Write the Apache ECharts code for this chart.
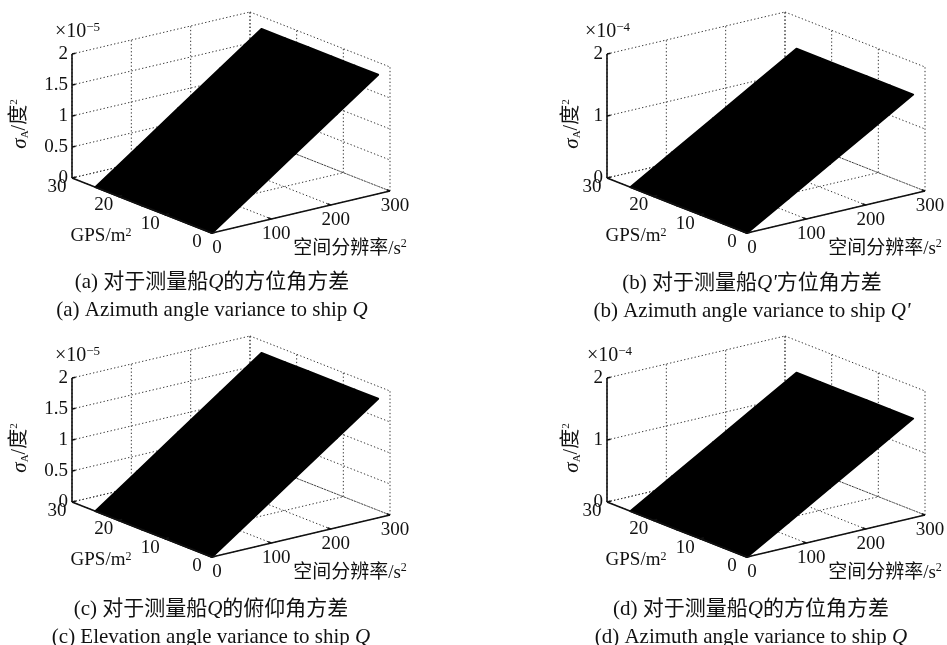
<!DOCTYPE html>
<html>
<head>
<meta charset="utf-8">
<script src="https://cdn.jsdelivr.net/npm/echarts@6/dist/echarts.min.js"></script>
<style>
html, body { margin: 0; padding: 0; background: #fff; }
#chart { width: 947px; height: 645px; }
</style>
</head>
<body>
<div id="chart"></div>
<script>
// axis ticks, shared by the four panels
const gpsTicks = [0, 10, 20, 30]          // GPS/m²
const resTicks = [0, 100, 200, 300]       // 空间分辨率/s²
const zTicks5 = [0, 0.5, 1, 1.5, 2]       // ×10^-5
const zTicks4 = [0, 1, 2]                 // ×10^-4

// where the surfaces were sampled
const gpsGrid = [0, 5, 10, 15, 20, 25]
const resGrid = [0, 70, 140, 210, 280]

// σ of each plane, one value per resGrid column (flat along GPS)
const sigmaA_Q = [0, 0.48, 0.96, 1.44, 1.92]    // ×10^-5
const sigmaA_Qp = [0, 0.40, 0.80, 1.20, 1.60]   // ×10^-4
const sigmaE_Q = [0, 0.48, 0.96, 1.44, 1.92]    // ×10^-5
const sigmaA_Q2 = [0, 0.40, 0.80, 1.20, 1.60]   // ×10^-4

const captionsZh = ['(a) 对于测量船Q的方位角方差', "(b) 对于测量船Q'方位角方差", '(c) 对于测量船Q的俯仰角方差', '(d) 对于测量船Q的方位角方差']
const captionsEn = ['(a) Azimuth angle variance to ship Q', "(b) Azimuth angle variance to ship Q'", '(c) Elevation angle variance to ship Q', '(d) Azimuth angle variance to ship Q']

// fake 3D view: screen extent (px) of each full axis
const VIEW = { gx: -140, gy: 55, sx: 178, sy: 42, zh: 124 }
const gpsMax = gpsTicks[gpsTicks.length - 1]
const resMax = resTicks[resTicks.length - 1]

const panels = [
  { left: 72, top: 12, z: zTicks5, exp: '−5', sigma: sigmaA_Q, capX: 212, capY: 282, labGap: 52, expGap: 17 },
  { left: 607, top: 12, z: zTicks4, exp: '−4', sigma: sigmaA_Qp, capX: 752, capY: 283, labGap: 35, expGap: 22 },
  { left: 72, top: 336, z: zTicks5, exp: '−5', sigma: sigmaE_Q, capX: 211, capY: 609, labGap: 52, expGap: 17 },
  { left: 607, top: 336, z: zTicks4, exp: '−4', sigma: sigmaA_Q2, capX: 751, capY: 609, labGap: 35, expGap: 20 }
]

const SERIF = 'Liberation Serif, Noto Sans CJK SC'

const proj = (g, s, z, zmax) => [
  g / gpsMax * VIEW.gx + s / resMax * VIEW.sx,
  g / gpsMax * VIEW.gy + s / resMax * VIEW.sy + z / zmax * VIEW.zh
]

const segRender = (zmax, style) => (params, api) => {
  const a = api.coord(proj(api.value(0), api.value(1), api.value(2), zmax))
  const b = api.coord(proj(api.value(3), api.value(4), api.value(5), zmax))
  return { type: 'line', shape: { x1: a[0], y1: a[1], x2: b[0], y2: b[1] }, style }
}

const richCaption = (str) =>
  str.split(/(Q'?)/).filter(Boolean).map(t => /^Q/.test(t) ? `{q|${t}}` : `{p|${t}}`).join('')

const capRich = {
  p: { fontFamily: SERIF, fontSize: 21, fontWeight: 'normal', color: '#111' },
  q: { fontFamily: 'Liberation Serif', fontStyle: 'italic', fontWeight: 'normal', fontSize: 21, color: '#111' }
}

const chart = echarts.init(document.getElementById('chart'))

const grids = [], xAxes = [], yAxes = [], series = [], titles = []

panels.forEach((p, i) => {
  const zmax = p.z[p.z.length - 1]
  grids.push({ left: p.left, top: p.top, width: VIEW.sx - VIEW.gx, height: VIEW.gy + VIEW.sy + VIEW.zh })
  xAxes.push({ type: 'value', gridIndex: i, min: VIEW.gx, max: VIEW.sx, show: false })
  yAxes.push({ type: 'value', gridIndex: i, min: 0, max: VIEW.gy + VIEW.sy + VIEW.zh, show: false })

  // dotted grid on the floor and the two back walls
  const gridSegs = []
  resTicks.forEach(s => {
    gridSegs.push([gpsMax, s, 0, gpsMax, s, zmax])
    gridSegs.push([0, s, 0, gpsMax, s, 0])
  })
  gpsTicks.forEach(g => {
    gridSegs.push([g, resMax, 0, g, resMax, zmax])
    gridSegs.push([g, 0, 0, g, resMax, 0])
  })
  p.z.forEach(z => {
    gridSegs.push([gpsMax, 0, z, gpsMax, resMax, z])
    gridSegs.push([gpsMax, resMax, z, 0, resMax, z])
  })

  // surface cells
  const cells = []
  for (let a = 0; a < gpsGrid.length - 1; a++) {
    for (let b = 0; b < resGrid.length - 1; b++) {
      cells.push([gpsGrid[a], gpsGrid[a + 1], resGrid[b], resGrid[b + 1], p.sigma[b], p.sigma[b + 1]])
    }
  }

  // axis lines and ticks
  const axisSegs = [
    [gpsMax, 0, 0, gpsMax, 0, zmax],
    [0, 0, 0, gpsMax, 0, 0],
    [0, 0, 0, 0, resMax, 0]
  ]
  p.z.forEach(z => axisSegs.push([gpsMax, 0, z, gpsMax, 6, z]))
  gpsTicks.forEach(g => axisSegs.push([g, 0, 0, g, 6, 0]))
  resTicks.forEach(s => axisSegs.push([0, s, 0, 0.7, s, 0]))

  // texts anchored on the box
  const tick = { fontSize: 19, fontFamily: 'Liberation Serif' }
  const labels = []
  p.z.forEach(z => labels.push({ at: [gpsMax, 0, z], dx: -4, dy: 0, align: 'right', text: String(z), ...tick }))
  gpsTicks.forEach(g => labels.push({ at: [g, 0, 0], dx: -15, dy: 9, align: 'center', text: String(g), ...tick }))
  resTicks.forEach(s => labels.push({ at: [0, s, 0], dx: 5, dy: 15, align: 'center', text: String(s), ...tick }))
  labels.push({
    at: [gpsMax, 0, zmax], dx: -p.expGap, dy: -22, align: 'left',
    text: `{t|×10}{e|${p.exp}}`,
    rich: {
      t: { fontSize: 20, fontFamily: 'Liberation Serif', fill: '#111', lineHeight: 22 },
      e: { fontSize: 13, fontFamily: 'Liberation Serif', fill: '#111', lineHeight: 13, verticalAlign: 'top' }
    }
  })
  labels.push({
    at: [gpsMax, 0, zmax / 2], dx: -p.labGap, dy: 8, align: 'center', rotation: Math.PI / 2,
    text: '{s|σ}{sub|A}{n|/度}{sup|2}',
    rich: {
      s: { fontSize: 21, fontFamily: 'Liberation Serif', fontStyle: 'italic', fill: '#111', lineHeight: 22 },
      sub: { fontSize: 11, fontFamily: 'Liberation Serif', fill: '#111', lineHeight: 11, verticalAlign: 'bottom' },
      n: { fontSize: 20, fontFamily: SERIF, fill: '#111', lineHeight: 22 },
      sup: { fontSize: 11, fontFamily: 'Liberation Serif', fill: '#111', lineHeight: 11, verticalAlign: 'top' }
    }
  })
  labels.push({
    at: [gpsMax / 2, 0, 0], dx: -41, dy: 31, align: 'center',
    text: '{n|GPS/m}{sup|2}',
    rich: {
      n: { fontSize: 19, fontFamily: 'Liberation Serif', fill: '#111', lineHeight: 20 },
      sup: { fontSize: 12, fontFamily: 'Liberation Serif', fill: '#111', lineHeight: 12, verticalAlign: 'top' }
    }
  })
  labels.push({
    at: [0, resMax / 2, 0], dx: 49, dy: 37, align: 'center',
    text: '{n|空间分辨率/s}{sup|2}',
    rich: {
      n: { fontSize: 19, fontFamily: SERIF, fill: '#111', lineHeight: 22 },
      sup: { fontSize: 12, fontFamily: 'Liberation Serif', fill: '#111', lineHeight: 12, verticalAlign: 'top' }
    }
  })

  const common = { type: 'custom', coordinateSystem: 'cartesian2d', xAxisIndex: i, yAxisIndex: i, silent: true, animation: false }

  series.push({
    ...common, name: 'grid' + i,
    dimensions: ['g1', 's1', 'z1', 'g2', 's2', 'z2'], encode: { x: 0, y: 1 },
    renderItem: segRender(zmax, { stroke: '#333', lineWidth: 1, lineDash: [1.3, 2.3] }),
    data: gridSegs
  })
  series.push({
    ...common, name: 'surface' + i,
    dimensions: ['g0', 'g1', 's0', 's1', 'z0', 'z1'], encode: { x: 0, y: 2 },
    renderItem: (params, api) => {
      const g0 = api.value(0), g1 = api.value(1), s0 = api.value(2), s1 = api.value(3)
      const z0 = api.value(4), z1 = api.value(5)
      const pts = [[g0, s0, z0], [g1, s0, z0], [g1, s1, z1], [g0, s1, z1]]
        .map(q => api.coord(proj(q[0], q[1], q[2], zmax)))
      return { type: 'polygon', shape: { points: pts }, style: { fill: '#000', stroke: '#000', lineWidth: 2, lineJoin: 'round' } }
    },
    data: cells
  })
  series.push({
    ...common, name: 'axes' + i,
    dimensions: ['g1', 's1', 'z1', 'g2', 's2', 'z2'], encode: { x: 0, y: 1 },
    renderItem: segRender(zmax, { stroke: '#111', lineWidth: 1.6 }),
    data: axisSegs
  })
  series.push({
    ...common, name: 'labels' + i,
    dimensions: ['g', 's', 'z'], encode: { x: 0, y: 1 },
    renderItem: (params, api) => {
      const d = labels[params.dataIndex]
      const c = api.coord(proj(api.value(0), api.value(1), api.value(2), zmax))
      const style = {
        text: d.text, x: 0, y: 0, fill: '#111',
        align: d.align, verticalAlign: 'middle'
      }
      if (d.rich) style.rich = d.rich
      else style.font = `${d.fontSize}px ${d.fontFamily}`
      return { type: 'text', x: c[0] + d.dx, y: c[1] + d.dy, rotation: d.rotation || 0, style }
    },
    data: labels.map(d => d.at)
  })

  titles.push({
    text: richCaption(captionsZh[i]), left: p.capX, top: p.capY, padding: 0,
    textAlign: 'center', textVerticalAlign: 'middle',
    textStyle: { fontWeight: 'normal', rich: capRich }
  })
  titles.push({
    text: richCaption(captionsEn[i]), left: p.capX, top: p.capY + 28, padding: 0,
    textAlign: 'center', textVerticalAlign: 'middle',
    textStyle: { fontWeight: 'normal', rich: capRich }
  })
})

chart.setOption({
  backgroundColor: '#fff',
  animation: false,
  title: titles,
  grid: grids,
  xAxis: xAxes,
  yAxis: yAxes,
  series
})

window.addEventListener('resize', () => chart.resize())
</script>
</body>
</html>
